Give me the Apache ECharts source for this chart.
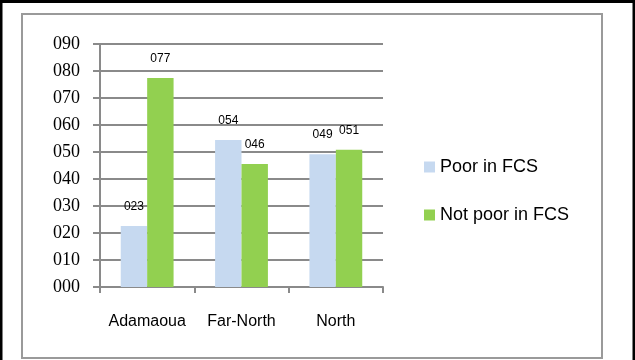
<!DOCTYPE html>
<html>
<head>
<meta charset="utf-8">
<script src="https://cdn.jsdelivr.net/npm/echarts@6/dist/echarts.min.js"></script>
<style>
html,body{margin:0;padding:0;background:#fff;}
#c{width:635px;height:360px;}
</style>
</head>
<body>
<div id="c"></div>
<script>
const categories = ['Adamaoua', 'Far-North', 'North'];
const poorInFCS = [22.6, 54.4, 49.2];
const notPoorInFCS = [77.4, 45.6, 50.8];
const seriesNames = ['Poor in FCS', 'Not poor in FCS'];
const yTicks = { min: 0, max: 90, interval: 10 };

const pad3 = v => String(Math.round(v)).padStart(3, '0');
const gridColor = '#8a8a8a';
const sans = "Liberation Sans";
const serif = "Liberation Serif";

const chart = echarts.init(document.getElementById('c'), null, { renderer: 'canvas' });
chart.setOption({
  animation: false,
  backgroundColor: '#fff',
  graphic: [
    { type: 'rect', shape: { x: 1, y: 1.5, width: 633, height: 362 }, style: { fill: 'none', stroke: '#000', lineWidth: 3 }, silent: true, z: -10 },
    { type: 'rect', shape: { x: 22, y: 14, width: 580, height: 344 }, style: { fill: 'none', stroke: '#9a9a9a', lineWidth: 2 }, silent: true, z: -10 }
  ],
  grid: { left: 100, right: 252, top: 44, bottom: 73, containLabel: false },
  legend: {
    orient: 'vertical',
    left: 424,
    top: 158,
    padding: 0,
    itemWidth: 11,
    itemHeight: 11,
    itemGap: 30,
    icon: 'rect',
    textStyle: { fontFamily: sans, fontSize: 18, color: '#000' },
    data: seriesNames
  },
  xAxis: {
    type: 'category',
    data: categories,
    axisLine: { lineStyle: { color: gridColor, width: 2 } },
    axisTick: { show: true, length: 6, lineStyle: { color: gridColor, width: 2 } },
    axisLabel: { fontFamily: sans, fontSize: 16, color: '#000', margin: 27, interval: 0, hideOverlap: false }
  },
  yAxis: {
    type: 'value',
    min: yTicks.min,
    max: yTicks.max,
    interval: yTicks.interval,
    axisLine: { show: true, lineStyle: { color: gridColor, width: 2 } },
    axisTick: { show: true, length: 7, lineStyle: { color: gridColor, width: 2 } },
    splitLine: { show: true, lineStyle: { color: gridColor, width: 2 } },
    axisLabel: { color: '#000', margin: 20, formatter: pad3, fontFamily: serif, fontSize: 18 }
  },
  series: [
    {
      name: seriesNames[0], type: 'bar', data: poorInFCS,
      itemStyle: { color: '#c6d9f0' },
      barGap: '0%', barCategoryGap: '44%',
      label: { show: true, position: 'top', distance: 13, fontFamily: sans, fontSize: 12, color: '#000', formatter: p => pad3(p.value) }
    },
    {
      name: seriesNames[1], type: 'bar', data: notPoorInFCS,
      itemStyle: { color: '#92d050' },
      barGap: '0%', barCategoryGap: '44%',
      label: { show: true, position: 'top', distance: 13, fontFamily: sans, fontSize: 12, color: '#000', formatter: p => pad3(p.value) }
    }
  ]
});
</script>
</body>
</html>
